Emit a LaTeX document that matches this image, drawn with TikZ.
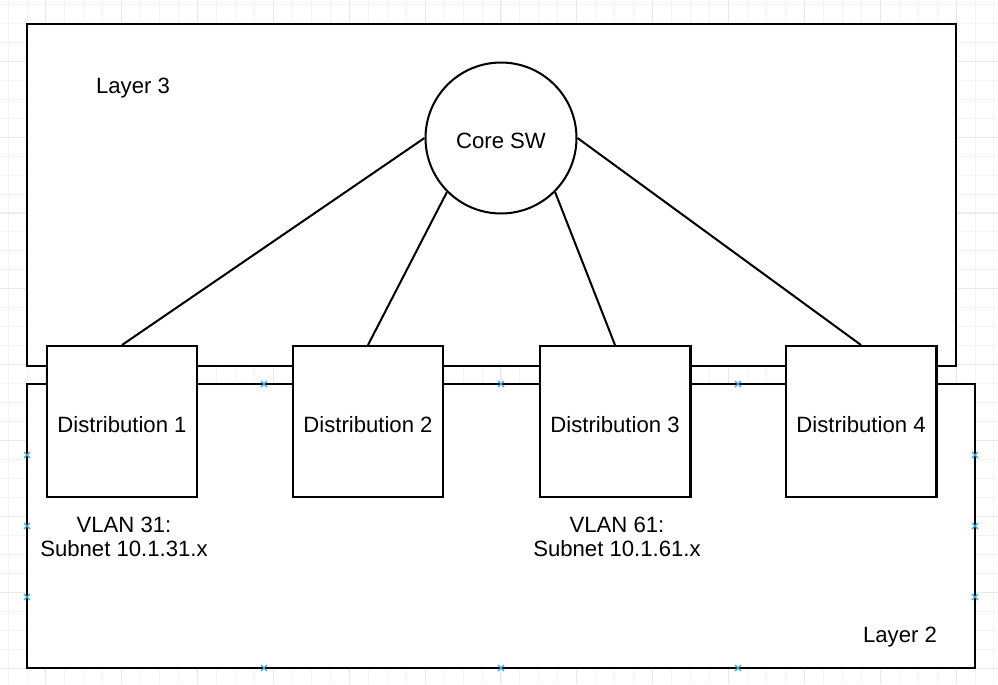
\documentclass[tikz,border=0pt]{standalone}
\usepackage{fontspec}
\setmainfont{Liberation Sans}
\usetikzlibrary{calc}
\definecolor{gridminor}{HTML}{F3F3F3}
\definecolor{gridmajor}{HTML}{E8E8E8}
\definecolor{handleblue}{HTML}{3AA6E0}

\begin{document}
\begin{tikzpicture}[x=0.02cm, y=-0.02cm, line width=1.15pt,
  every node/.style={font=\fontsize{12.6}{13.6}\selectfont, inner sep=0pt},
  lowtext/.style={text height=12pt, text depth=0pt},
  layer/.style={draw=black, fill=white},
  distbox/.style={draw=black, fill=white, minimum size=3.02cm, lowtext},
  coresw/.style={draw=black, fill=white, circle, minimum size=3.02cm, lowtext},
  gridline/.style={gridminor, line width=0.55pt},
  gridbold/.style={gridmajor, line width=0.55pt},
  handle/.style={handleblue, line width=0.7pt}]
\clip (0,0) rectangle (998,684);
\fill[white] (0,0) rectangle (998,684);
% background grid
\foreach \j in {0,...,52}
  \draw[gridline] ({8.04+18.96*\j},0) --++(0,684);
\foreach \j in {0,...,35}
  \draw[gridline] (0,{4.4+18.96*\j}) --++(998,0);
\foreach \j in {0,...,12}
  \draw[gridbold] ({45.9+75.84*\j},0) --++(0,684);
\foreach \j in {0,...,8}
  \draw[gridbold] (0,{61.3+75.84*\j}) --++(998,0);

% layers
\coordinate (l3nw) at (27,24);
\coordinate (l3se) at (956,366);
\coordinate (l2nw) at (27,384);
\coordinate (l2se) at (975,668);
\draw[layer] (l3nw) rectangle (l3se);
\draw[layer] (l2nw) rectangle (l2se);
\node[lowtext] (layer3) at (133,83) {Layer 3};
\node[lowtext] (layer2) at (900,632) {Layer 2};

% switches
\node[coresw] (core) at (501,138) {Core SW};
\foreach \i/\x in {1/122, 2/368, 3/615, 4/861}
  \node[distbox] (d\i) at (\x,421.5) {Distribution \i};
\draw (d1.north) -- (core.west);
\draw (d2.north) -- (core.south west);
\draw (d3.north) -- (core.south east);
\draw (d4.north) -- (core.east);

\node[align=center] (vlan31) at (124,537) {VLAN 31:\\Subnet 10.1.31.x};
\node[align=center] (vlan61) at (617,537) {VLAN 61:\\Subnet 10.1.61.x};

% selection handles on layer 2
\foreach \hx/\hy in {264/384, 501/384, 738/384, 264/668, 501/668, 738/668,
                     27/455, 27/526, 27/597, 975/455, 975/526, 975/597}
  \draw[handle] ({\hx-3},{\hy-3}) --++(6,6) ({\hx-3},{\hy+3}) --++(6,-6);
\end{tikzpicture}
\end{document}
